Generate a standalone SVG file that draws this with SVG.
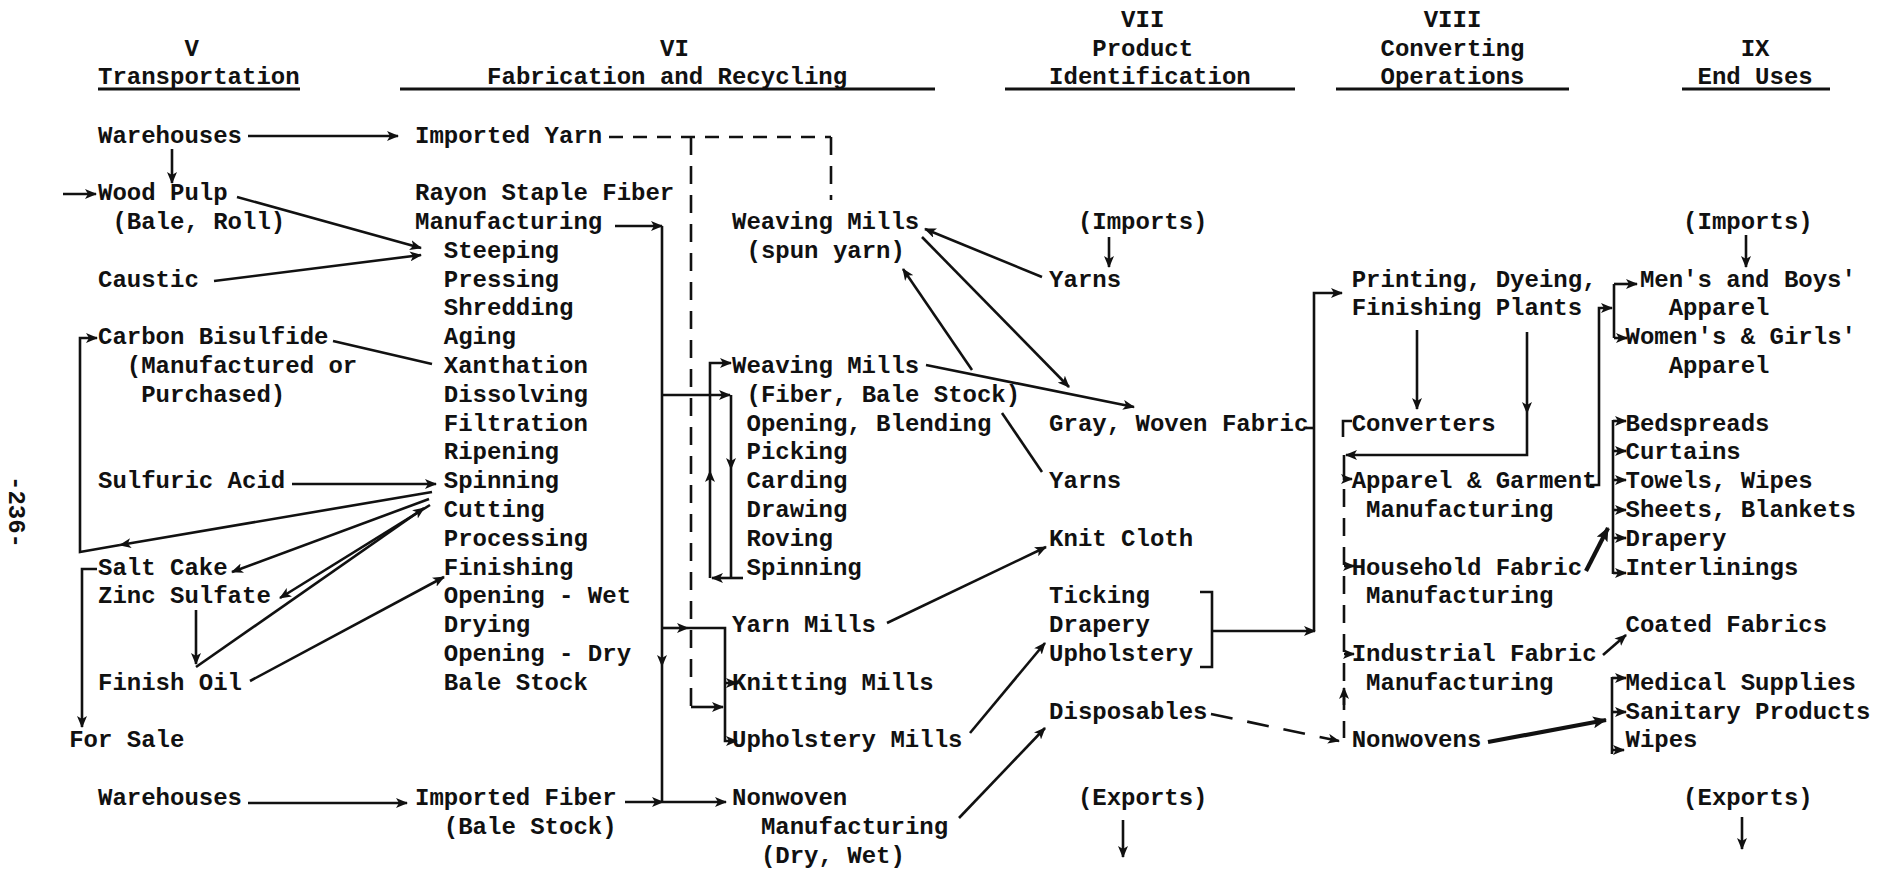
<svg xmlns="http://www.w3.org/2000/svg" width="1893" height="869" viewBox="0 0 1893 869">
<defs>
<style>
.t{font-family:"Liberation Mono","Courier New",monospace;font-size:24px;font-weight:700;fill:#111}
.ln{fill:none;stroke:#111;stroke-width:2.6}
.thk{stroke-width:4.2}
.ar{marker-end:url(#ah)}
.arb{marker-end:url(#ahb)}
.dh{stroke-dasharray:14 10}
.dv{stroke-dasharray:18 11}
.dd{stroke-dasharray:22 15}
.ul{stroke:#111;stroke-width:3}
</style>
<marker id="ah" viewBox="0 0 12 10" refX="11" refY="5" markerWidth="12" markerHeight="10" markerUnits="userSpaceOnUse" orient="auto"><path d="M0,0 L12,5 L0,10 L3,5 Z" fill="#111"/></marker>
<marker id="ahb" viewBox="0 0 14 12" refX="13" refY="6" markerWidth="14" markerHeight="12" markerUnits="userSpaceOnUse" orient="auto"><path d="M0,0 L14,6 L0,12 L3,6 Z" fill="#111"/></marker>
</defs>
<rect width="1893" height="869" fill="#fff"/>

<!-- page number -->
<text class="t" transform="translate(9,476) rotate(90)">-236-</text>

<!-- column headings -->
<g id="hdr-transportation">
<text class="t" x="184.5" y="55.5">V</text>
<text class="t" x="98" y="84.3">Transportation</text>
<line class="ul" x1="98" y1="89" x2="300" y2="89"/>
</g>
<g id="hdr-fabrication">
<text class="t" x="660" y="55.5">VI</text>
<text class="t" x="487.1" y="84.3">Fabrication and Recycling</text>
<line class="ul" x1="400" y1="89" x2="935" y2="89"/>
</g>
<g id="hdr-product">
<text class="t" x="1121.1" y="26.7">VII</text>
<text class="t" x="1092.3" y="55.5">Product</text>
<text class="t" x="1049.1" y="84.3">Identification</text>
<line class="ul" x1="1005" y1="89" x2="1295" y2="89"/>
</g>
<g id="hdr-converting">
<text class="t" x="1423.7" y="26.7">VIII</text>
<text class="t" x="1380.5" y="55.5">Converting</text>
<text class="t" x="1380.5" y="84.3">Operations</text>
<line class="ul" x1="1336" y1="89" x2="1569" y2="89"/>
</g>
<g id="hdr-enduses">
<text class="t" x="1740.7" y="55.5">IX</text>
<text class="t" x="1697.5" y="84.3">End Uses</text>
<line class="ul" x1="1682" y1="89" x2="1830" y2="89"/>
</g>

<!-- V Transportation -->
<g id="warehouses-top"><text class="t" x="98" y="142.5">Warehouses</text></g>
<g id="wood-pulp"><text class="t" x="98" y="200.1">Wood Pulp</text><text class="t" x="112.4" y="228.9">(Bale, Roll)</text></g>
<g id="caustic"><text class="t" x="98" y="286.5">Caustic</text></g>
<g id="carbon-bisulfide"><text class="t" x="98" y="344.1">Carbon Bisulfide</text><text class="t" x="126.8" y="372.9">(Manufactured or</text><text class="t" x="141.2" y="401.7">Purchased)</text></g>
<g id="sulfuric-acid"><text class="t" x="98" y="488.1">Sulfuric Acid</text></g>
<g id="salt-cake"><text class="t" x="98" y="574.5">Salt Cake</text></g>
<g id="zinc-sulfate"><text class="t" x="98" y="603.3">Zinc Sulfate</text></g>
<g id="finish-oil"><text class="t" x="98" y="689.7">Finish Oil</text></g>
<g id="for-sale"><text class="t" x="69.2" y="747.3">For Sale</text></g>
<g id="warehouses-bottom"><text class="t" x="98" y="804.9">Warehouses</text></g>

<!-- VI Fabrication and Recycling -->
<g id="imported-yarn"><text class="t" x="415" y="142.5">Imported Yarn</text></g>
<g id="rayon-staple">
<text class="t" x="415" y="200.1">Rayon Staple Fiber</text>
<text class="t" x="415" y="228.9">Manufacturing</text>
<text class="t" x="443.8" y="257.7">Steeping</text>
<text class="t" x="443.8" y="286.5">Pressing</text>
<text class="t" x="443.8" y="315.3">Shredding</text>
<text class="t" x="443.8" y="344.1">Aging</text>
<text class="t" x="443.8" y="372.9">Xanthation</text>
<text class="t" x="443.8" y="401.7">Dissolving</text>
<text class="t" x="443.8" y="430.5">Filtration</text>
<text class="t" x="443.8" y="459.3">Ripening</text>
<text class="t" x="443.8" y="488.1">Spinning</text>
<text class="t" x="443.8" y="516.9">Cutting</text>
<text class="t" x="443.8" y="545.7">Processing</text>
<text class="t" x="443.8" y="574.5">Finishing</text>
<text class="t" x="443.8" y="603.3">Opening - Wet</text>
<text class="t" x="443.8" y="632.1">Drying</text>
<text class="t" x="443.8" y="660.9">Opening - Dry</text>
<text class="t" x="443.8" y="689.7">Bale Stock</text>
</g>
<g id="imported-fiber"><text class="t" x="415" y="804.9">Imported Fiber</text><text class="t" x="443.8" y="833.7">(Bale Stock)</text></g>
<g id="weaving-spun"><text class="t" x="732" y="228.9">Weaving Mills</text><text class="t" x="746.5" y="257.7">(spun yarn)</text></g>
<g id="weaving-fiber">
<text class="t" x="732" y="372.9">Weaving Mills</text>
<text class="t" x="746.5" y="401.7">(Fiber, Bale Stock)</text>
<text class="t" x="746.5" y="430.5">Opening, Blending</text>
<text class="t" x="746.5" y="459.3">Picking</text>
<text class="t" x="746.5" y="488.1">Carding</text>
<text class="t" x="746.5" y="516.9">Drawing</text>
<text class="t" x="746.5" y="545.7">Roving</text>
<text class="t" x="746.5" y="574.5">Spinning</text>
</g>
<g id="yarn-mills"><text class="t" x="732" y="632.1">Yarn Mills</text></g>
<g id="knitting-mills"><text class="t" x="732" y="689.7">Knitting Mills</text></g>
<g id="upholstery-mills"><text class="t" x="732" y="747.3">Upholstery Mills</text></g>
<g id="nonwoven-mfg"><text class="t" x="732" y="804.9">Nonwoven</text><text class="t" x="760.9" y="833.7">Manufacturing</text><text class="t" x="760.9" y="862.5">(Dry, Wet)</text></g>

<!-- VII Product Identification -->
<g id="imports-vii"><text class="t" x="1077.9" y="228.9">(Imports)</text></g>
<g id="yarns-woven"><text class="t" x="1049.1" y="286.5">Yarns</text></g>
<g id="gray-woven"><text class="t" x="1049.1" y="430.5">Gray, Woven Fabric</text></g>
<g id="yarns-spun"><text class="t" x="1049.1" y="488.1">Yarns</text></g>
<g id="knit-cloth"><text class="t" x="1049.1" y="545.7">Knit Cloth</text></g>
<g id="ticking-group"><text class="t" x="1049.1" y="603.3">Ticking</text><text class="t" x="1049.1" y="632.1">Drapery</text><text class="t" x="1049.1" y="660.9">Upholstery</text></g>
<g id="disposables"><text class="t" x="1049.1" y="718.5">Disposables</text></g>
<g id="exports-vii"><text class="t" x="1077.9" y="804.9">(Exports)</text></g>

<!-- VIII Converting Operations -->
<g id="printing-plants"><text class="t" x="1351.7" y="286.5">Printing, Dyeing,</text><text class="t" x="1351.7" y="315.3">Finishing Plants</text></g>
<g id="converters"><text class="t" x="1351.7" y="430.5">Converters</text></g>
<g id="apparel-mfg"><text class="t" x="1351.7" y="488.1">Apparel &amp; Garment</text><text class="t" x="1366.1" y="516.9">Manufacturing</text></g>
<g id="household-mfg"><text class="t" x="1351.7" y="574.5">Household Fabric</text><text class="t" x="1366.1" y="603.3">Manufacturing</text></g>
<g id="industrial-mfg"><text class="t" x="1351.7" y="660.9">Industrial Fabric</text><text class="t" x="1366.1" y="689.7">Manufacturing</text></g>
<g id="nonwovens"><text class="t" x="1351.7" y="747.3">Nonwovens</text></g>

<!-- IX End Uses -->
<g id="imports-ix"><text class="t" x="1683.1" y="228.9">(Imports)</text></g>
<g id="mens-apparel"><text class="t" x="1639.9" y="286.5">Men's and Boys'</text><text class="t" x="1668.7" y="315.3">Apparel</text></g>
<g id="womens-apparel"><text class="t" x="1625.5" y="344.1">Women's &amp; Girls'</text><text class="t" x="1668.7" y="372.9">Apparel</text></g>
<g id="household-uses">
<text class="t" x="1625.5" y="430.5">Bedspreads</text>
<text class="t" x="1625.5" y="459.3">Curtains</text>
<text class="t" x="1625.5" y="488.1">Towels, Wipes</text>
<text class="t" x="1625.5" y="516.9">Sheets, Blankets</text>
<text class="t" x="1625.5" y="545.7">Drapery</text>
<text class="t" x="1625.5" y="574.5">Interlinings</text>
</g>
<g id="coated-fabrics"><text class="t" x="1625.5" y="632.1">Coated Fabrics</text></g>
<g id="nonwoven-uses">
<text class="t" x="1625.5" y="689.7">Medical Supplies</text>
<text class="t" x="1625.5" y="718.5">Sanitary Products</text>
<text class="t" x="1625.5" y="747.3">Wipes</text>
</g>
<g id="exports-ix"><text class="t" x="1683.1" y="804.9">(Exports)</text></g>

<!-- flow lines -->
<g id="connectors">
<!-- transportation to fabrication -->
<path class="ln ar" d="M248,136 H398"/>
<path class="ln ar" d="M172,149 V183"/>
<path class="ln ar" d="M63,194 H96"/>
<path class="ln ar" d="M237,197 L421,248"/>
<path class="ln ar" d="M214,281 L421,255"/>
<path class="ln" d="M333,341 L432,364"/>
<path class="ln ar" d="M292,484 H436"/>
<path class="ln ar" d="M432,492 L120,545"/>
<path class="ln ar" d="M120,545 L80,552 V338 H97"/>
<path class="ln ar" d="M429,499 L232,572"/>
<path class="ln ar" d="M430,505 L280,598"/>
<path class="ln ar" d="M196,610 V664"/>
<path class="ln ar" d="M196,667 L424,508"/>
<path class="ln ar" d="M250,681 L444,577"/>
<path class="ln ar" d="M97,569 H82 V727"/>
<path class="ln ar" d="M248,803 H407"/>
<!-- rayon and imported fiber trunk -->
<path class="ln ar" d="M615,226 H662"/>
<path class="ln ar" d="M662,226 V666"/>
<path class="ln" d="M662,666 V802"/>
<path class="ln ar" d="M625,802 H663"/>
<path class="ln ar" d="M663,802 H726"/>
<path class="ln ar" d="M662,395 H730"/>
<path class="ln ar" d="M731,395 V469"/>
<path class="ln" d="M731,469 V578"/>
<path class="ln ar" d="M743,578 H712"/>
<path class="ln ar" d="M710,578 V471"/>
<path class="ln ar" d="M710,471 V363 H731"/>
<path class="ln ar" d="M662,628 H688"/>
<path class="ln ar" d="M688,628 H725 V741 H737"/>
<path class="ln ar" d="M725,683 H737"/>
<!-- imported yarn (dashed) -->
<path class="ln dh" d="M609,137 H831"/>
<path class="ln dv" d="M831,137 V200"/>
<path class="ln dv" d="M691,137 V707"/>
<path class="ln ar" d="M691,707 H723"/>
<!-- fabrication to product identification -->
<path class="ln ar" d="M1042,277 L925,229"/>
<path class="ln ar" d="M922,237 L1069,387"/>
<path class="ln ar" d="M926,365 L1134,407"/>
<path class="ln" d="M1042,472 L1002,413"/>
<path class="ln ar" d="M972,370 L903,269"/>
<path class="ln ar" d="M887,623 L1046,547"/>
<path class="ln ar" d="M970,733 L1045,643"/>
<path class="ln ar" d="M959,818 L1045,728"/>
<path class="ln ar" d="M1109,237 V267"/>
<path class="ln ar" d="M1123,820 V857"/>
<!-- product identification to converting -->
<path class="ln" d="M1200,592 H1212 V667 H1200"/>
<path class="ln ar" d="M1212,631 H1315"/>
<path class="ln ar" d="M1314,631 V293 H1342"/>
<path class="ln" d="M1306,428 H1314"/>
<path class="ln dd ar" d="M1211,714 L1339,741"/>
<!-- converting operations -->
<path class="ln ar" d="M1417,330 V409"/>
<path class="ln ar" d="M1527,332 V413"/>
<path class="ln ar" d="M1527,413 V455 H1346"/>
<path class="ln ar" d="M1344,455 V479 H1352"/>
<path class="ln" d="M1352,421 H1343 V437"/>
<path class="ln dv" d="M1344,489 V738"/>
<path class="ln ar" d="M1344,566 H1354"/>
<path class="ln ar" d="M1344,654 H1354"/>
<path class="ln ar" d="M1344,705 V688"/>
<!-- converting to end uses -->
<path class="ln ar" d="M1590,485 H1599 V308 H1612"/>
<path class="ln" d="M1614,284 V338"/>
<path class="ln ar" d="M1614,284 H1637"/>
<path class="ln ar" d="M1614,338 H1627"/>
<path class="ln" d="M1613,420 V574"/>
<path class="ln ar" d="M1613,421 H1626"/>
<path class="ln ar" d="M1613,451 H1626"/>
<path class="ln ar" d="M1613,480 H1626"/>
<path class="ln ar" d="M1613,510 H1626"/>
<path class="ln ar" d="M1613,538 H1626"/>
<path class="ln ar" d="M1613,573 H1626"/>
<path class="ln thk arb" d="M1586,571 L1608,528"/>
<path class="ln ar" d="M1603,655 L1626,635"/>
<path class="ln thk arb" d="M1488,742 L1606,720"/>
<path class="ln" d="M1612,677 V754"/>
<path class="ln ar" d="M1612,678 H1626"/>
<path class="ln ar" d="M1612,712 H1626"/>
<path class="ln ar" d="M1612,750 H1624"/>
<path class="ln ar" d="M1746,235 V267"/>
<path class="ln ar" d="M1742,817 V849"/>
</g>
</svg>
